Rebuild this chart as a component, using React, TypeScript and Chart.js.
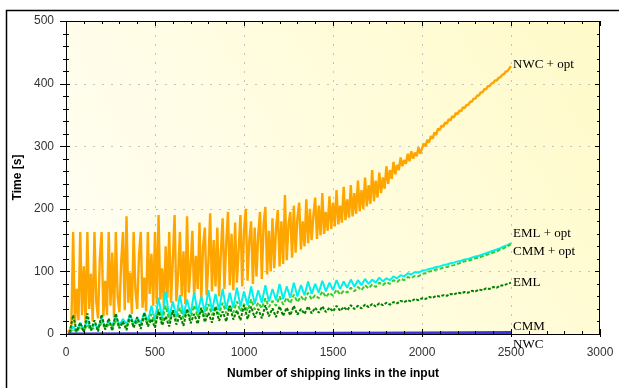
import React, { useEffect, useRef } from 'react';
import { Chart, registerables } from 'chart.js';

Chart.register(...registerables);

// ---------- DATA ----------
const xTickValues = [0, 500, 1000, 1500, 2000, 2500, 3000];
const yTickValues = [0, 100, 200, 300, 400, 500];
const xTitle = 'Number of shipping links in the input';
const yTitle = 'Time [s]';

const seriesNames = ['NWC + opt', 'CMM + opt', 'EML + opt', 'EML', 'CMM', 'NWC'];

const xFine = [
  10, 20, 30, 40, 50, 60, 70, 80, 90, 100,
  110, 120, 130, 140, 150, 160, 170, 180, 190, 200,
  210, 220, 230, 240, 250, 260, 270, 280, 290, 300,
  310, 320, 330, 340, 350, 360, 370, 380, 390, 400,
  410, 420, 430, 440, 450, 460, 470, 480, 490, 500,
  510, 520, 530, 540, 550, 560, 570, 580, 590, 600,
  610, 620, 630, 640, 650, 660, 670, 680, 690, 700,
  710, 720, 730, 740, 750, 760, 770, 780, 790, 800,
  810, 820, 830, 840, 850, 860, 870, 880, 890, 900,
  910, 920, 930, 940, 950, 960, 970, 980, 990, 1000,
  1010, 1020, 1030, 1040, 1050, 1060, 1070, 1080, 1090, 1100,
  1110, 1120, 1130, 1140, 1150, 1160, 1170, 1180, 1190, 1200,
  1210, 1220, 1230, 1240, 1250, 1260, 1270, 1280, 1290, 1300,
  1310, 1320, 1330, 1340, 1350, 1360, 1370, 1380, 1390, 1400,
  1410, 1420, 1430, 1440, 1450, 1460, 1470, 1480, 1490, 1500,
  1510, 1520, 1530, 1540, 1550, 1560, 1570, 1580, 1590, 1600,
  1610, 1620, 1630, 1640, 1650, 1660, 1670, 1680, 1690, 1700,
  1710, 1720, 1730, 1740, 1750, 1760, 1770, 1780, 1790, 1800,
  1810, 1820, 1830, 1840, 1850, 1860, 1870, 1880, 1890, 1900,
  1910, 1920, 1930, 1940, 1950, 1960, 1970, 1980, 1990, 2000,
  2010, 2020, 2030, 2040, 2050, 2060, 2070, 2080, 2090, 2100,
  2110, 2120, 2130, 2140, 2150, 2160, 2170, 2180, 2190, 2200,
  2210, 2220, 2230, 2240, 2250, 2260, 2270, 2280, 2290, 2300,
  2310, 2320, 2330, 2340, 2350, 2360, 2370, 2380, 2390, 2400,
  2410, 2420, 2430, 2440, 2450, 2460, 2470, 2480, 2490, 2500,
];

const xCoarse = [
  20, 40, 60, 80, 100, 120, 140, 160, 180, 200,
  220, 240, 260, 280, 300, 320, 340, 360, 380, 400,
  420, 440, 460, 480, 500, 520, 540, 560, 580, 600,
  620, 640, 660, 680, 700, 720, 740, 760, 780, 800,
  820, 840, 860, 880, 900, 920, 940, 960, 980, 1000,
  1020, 1040, 1060, 1080, 1100, 1120, 1140, 1160, 1180, 1200,
  1220, 1240, 1260, 1280, 1300, 1320, 1340, 1360, 1380, 1400,
  1420, 1440, 1460, 1480, 1500, 1520, 1540, 1560, 1580, 1600,
  1620, 1640, 1660, 1680, 1700, 1720, 1740, 1760, 1780, 1800,
  1820, 1840, 1860, 1880, 1900, 1920, 1940, 1960, 1980, 2000,
  2020, 2040, 2060, 2080, 2100, 2120, 2140, 2160, 2180, 2200,
  2220, 2240, 2260, 2280, 2300, 2320, 2340, 2360, 2380, 2400,
  2420, 2440, 2460, 2480, 2500,
];

const xFlat = [10, 500, 1000, 1500, 2000, 2500];

const nwcOpt = [
  3, 6, 10, 163, 14, 72, 22, 163, 30, 108,
  18, 163, 40, 96, 20, 163, 52, 25, 120, 163,
  28, 85, 30, 163, 45, 130, 26, 163, 60, 35,
  115, 163, 38, 188, 50, 98, 32, 163, 70, 40,
  125, 163, 42, 90, 36, 163, 64, 128, 45, 163,
  48, 190, 55, 105, 44, 140, 58, 163, 50, 118,
  190, 52, 95, 163, 60, 132, 48, 188, 66, 110,
  165, 58, 125, 72, 178, 54, 140, 170, 62, 115,
  193, 68, 150, 76, 170, 60, 130, 185, 72, 145,
  195, 78, 160, 70, 178, 82, 135, 190, 76, 165,
  200, 85, 150, 180, 80, 170, 92, 160, 195, 88,
  175, 203, 95, 165, 100, 185, 105, 170, 198, 108,
  180, 112, 222, 118, 175, 195, 122, 205, 130, 185,
  210, 135, 180, 140, 215, 145, 200, 150, 190, 218,
  152, 205, 158, 225, 160, 195, 165, 220, 168, 210,
  172, 230, 175, 205, 178, 235, 182, 215, 186, 238,
  188, 225, 192, 245, 196, 230, 200, 250, 204, 238,
  208, 262, 212, 245, 218, 258, 225, 250, 232, 268,
  240, 262, 248, 275, 255, 270, 262, 282, 268, 278,
  272, 288, 276, 292, 280, 290, 284, 298, 288, 296,
  304, 300, 310, 306, 316, 312, 322, 318, 328, 326,
  333, 331, 338, 336, 343, 341, 348, 346, 353, 351,
  357, 356, 362, 361, 366, 366, 371, 371, 376, 376,
  381, 381, 386, 386, 391, 391, 396, 396, 400, 401,
  405, 405, 409, 410, 414, 415, 419, 420, 424, 428,
];

const cmmOpt = [
  2, 12, 4, 18, 6, 22, 8, 15, 10, 25,
  11, 20, 13, 28, 14, 24, 16, 30, 17, 26,
  18, 34, 20, 45, 22, 58, 24, 68, 26, 52,
  28, 62, 30, 55, 32, 66, 34, 60, 35, 70,
  37, 64, 38, 72, 40, 66, 42, 74, 44, 68,
  46, 76, 48, 70, 50, 78, 52, 72, 54, 80,
  56, 76, 58, 82, 60, 78, 62, 84, 64, 80,
  66, 85, 68, 82, 70, 86, 72, 84, 74, 87,
  76, 86, 78, 88, 80, 87, 82, 90, 84, 89,
  86, 92, 89, 94, 92, 97, 95, 99, 98, 101,
  102, 104, 105, 107, 108, 110, 111, 113, 114, 116,
  117, 119, 120, 122, 124, 125, 127, 129, 131, 133,
  135, 137, 140, 142, 145,
];

const emlOpt = [
  2, 8, 3, 12, 5, 15, 6, 10, 8, 18,
  9, 15, 10, 20, 11, 17, 12, 22, 13, 19,
  14, 25, 16, 32, 17, 40, 19, 45, 21, 36,
  22, 42, 24, 38, 25, 46, 27, 41, 28, 48,
  30, 45, 31, 50, 33, 46, 34, 52, 36, 48,
  37, 55, 39, 50, 41, 57, 43, 53, 45, 60,
  47, 58, 49, 63, 51, 60, 53, 66, 55, 62,
  57, 68, 59, 66, 61, 71, 63, 69, 66, 74,
  68, 75, 70, 78, 73, 79, 75, 82, 78, 83,
  80, 86, 83, 88, 86, 91, 89, 93, 92, 96,
  97, 100, 101, 103, 104, 106, 107, 109, 110, 112,
  114, 116, 117, 119, 121, 122, 124, 126, 128, 130,
  132, 135, 137, 140, 143,
];

const eml = [
  2, 30, 4, 18, 3, 33, 6, 22, 4, 31,
  7, 25, 5, 33, 9, 20, 6, 32, 10, 27,
  8, 34, 12, 24, 10, 36, 14, 28, 12, 38,
  15, 30, 13, 40, 17, 32, 16, 42, 19, 34,
  18, 43, 21, 36, 20, 45, 23, 38, 22, 46,
  24, 44, 26, 40, 25, 46, 28, 41, 27, 44,
  29, 42, 30, 45, 31, 40, 32, 44, 33, 42,
  34, 44, 35, 42, 36, 45, 37, 43, 38, 46,
  40, 45, 41, 47, 43, 48, 44, 49, 46, 50,
  47, 51, 49, 53, 51, 54, 52, 56, 54, 57,
  56, 59, 58, 61, 60, 62, 61, 64, 63, 66,
  65, 67, 66, 69, 68, 71, 70, 73, 72, 75,
  74, 77, 78, 80, 82,
];

const cmm = [0.8, 1.2, 1.6, 2.0, 2.5, 3.0];
const nwc = [0.4, 0.4, 0.4, 0.4, 0.4, 0.4];

// ---------- STYLE ----------
const seriesStyle = [
  { color: '#FFA500', width: 2.4, dash: [] as number[], order: 6, labelDy: -1 },
  { color: '#00F0F0', width: 2, dash: [] as number[], order: 5, labelDy: 8 },
  { color: '#32CD32', width: 2, dash: [4, 2], order: 4, labelDy: -11 },
  { color: '#008000', width: 2, dash: [3, 1.5], order: 3, labelDy: 0 },
  { color: '#3535E0', width: 2, dash: [] as number[], order: 2, labelDy: -6 },
  { color: '#FF0000', width: 1.5, dash: [] as number[], order: 1, labelDy: 11 },
];

const xMinorStep = 100;
const yMinorStep = 20;
const sansFont = '"Liberation Sans", Arial, sans-serif';
const serifFont = '"Liberation Serif", "Times New Roman", serif';

function toPoints(xs: number[], ys: number[]) {
  return xs.map((x, i) => ({ x, y: ys[i] }));
}

const seriesData = [
  toPoints(xFine, nwcOpt),
  toPoints(xCoarse, cmmOpt),
  toPoints(xCoarse, emlOpt),
  toPoints(xCoarse, eml),
  toPoints(xFlat, cmm),
  toPoints(xFlat, nwc),
];

const decorPlugin = {
  id: 'decor',
  beforeDraw(chart: any) {
    const { ctx, chartArea: a } = chart;
    const xs = chart.scales.x;
    const ys = chart.scales.y;
    ctx.save();
    const g = ctx.createLinearGradient(a.left, a.bottom, a.right, a.top);
    g.addColorStop(0, '#FFFFF6');
    g.addColorStop(1, '#FFFAC8');
    ctx.fillStyle = g;
    ctx.fillRect(a.left, a.top, a.right - a.left, a.bottom - a.top);
    ctx.strokeStyle = '#c4c4c4';
    ctx.lineWidth = 1;
    ctx.setLineDash([2, 7]);
    for (const v of xTickValues) {
      if (v <= xs.min || v >= xs.max) continue;
      const px = Math.round(xs.getPixelForValue(v)) + 0.5;
      ctx.beginPath();
      ctx.moveTo(px, a.bottom);
      ctx.lineTo(px, a.top);
      ctx.stroke();
    }
    for (const v of yTickValues) {
      if (v <= ys.min || v >= ys.max) continue;
      const py = Math.round(ys.getPixelForValue(v)) + 0.5;
      ctx.beginPath();
      ctx.moveTo(a.left, py);
      ctx.lineTo(a.right, py);
      ctx.stroke();
    }
    ctx.restore();
  },
  afterDraw(chart: any) {
    const { ctx, chartArea: a, width, height } = chart;
    const xs = chart.scales.x;
    const ys = chart.scales.y;
    ctx.save();
    // outer frame (top and left)
    ctx.strokeStyle = '#000';
    ctx.lineWidth = 1.5;
    ctx.beginPath();
    ctx.moveTo(6.5, height);
    ctx.lineTo(6.5, 10.5);
    ctx.lineTo(width, 10.5);
    ctx.stroke();

    // plot border
    ctx.lineWidth = 1;
    ctx.strokeRect(a.left + 0.5, a.top + 0.5, a.right - a.left - 1, a.bottom - a.top);

    // ticks
    ctx.beginPath();
    for (let v = xs.min; v <= xs.max; v += xMinorStep) {
      const px = Math.round(xs.getPixelForValue(v)) + 0.5;
      const major = xTickValues.includes(v);
      ctx.moveTo(px, a.bottom + (major ? 3 : 0));
      ctx.lineTo(px, a.bottom - (major ? 5 : 3));
      ctx.moveTo(px, a.top);
      ctx.lineTo(px, a.top + (major ? 5 : 3));
    }
    for (let v = ys.min; v <= ys.max; v += yMinorStep) {
      const py = Math.round(ys.getPixelForValue(v)) + 0.5;
      const major = yTickValues.includes(v);
      ctx.moveTo(a.left - (major ? 6 : 3), py);
      ctx.lineTo(a.left + (major ? 4 : 3), py);
      ctx.moveTo(a.right, py);
      ctx.lineTo(a.right - (major ? 5 : 3), py);
    }
    ctx.stroke();

    // axis titles
    ctx.fillStyle = '#000';
    ctx.font = 'bold 12px ' + sansFont;
    ctx.textAlign = 'center';
    ctx.textBaseline = 'middle';
    ctx.fillText(xTitle, (a.left + a.right) / 2, 374);
    ctx.save();
    ctx.translate(18, (a.top + a.bottom) / 2);
    ctx.rotate(-Math.PI / 2);
    ctx.fillText(yTitle, 0, 0);
    ctx.restore();

    // series end labels
    ctx.font = '13px ' + serifFont;
    ctx.textAlign = 'left';
    ctx.textBaseline = 'middle';
    seriesData.forEach((pts, i) => {
      const last = pts[pts.length - 1];
      const px = xs.getPixelForValue(last.x) + 2;
      const py = ys.getPixelForValue(last.y) + seriesStyle[i].labelDy;
      ctx.fillText(seriesNames[i], px, py);
    });
    ctx.restore();
  },
};

export default function App() {
  const ref = useRef<HTMLCanvasElement | null>(null);

  useEffect(() => {
    document.body.style.margin = '0';
    const canvas = ref.current;
    if (!canvas) return;
    const chart = new Chart(canvas, {
      type: 'line',
      data: {
        datasets: seriesData.map((d, i) => ({
          label: seriesNames[i],
          data: d,
          borderColor: seriesStyle[i].color,
          backgroundColor: seriesStyle[i].color,
          borderWidth: seriesStyle[i].width,
          borderDash: seriesStyle[i].dash,
          borderJoinStyle: 'bevel' as const,
          pointRadius: 0,
          tension: 0,
          fill: false,
          order: seriesStyle[i].order,
        })),
      },
      options: {
        animation: false,
        responsive: false,
        devicePixelRatio: 1,
        parsing: false as any,
        layout: { padding: { left: 0, top: 21, right: 19, bottom: 0 } },
        plugins: {
          legend: { display: false },
          tooltip: { enabled: false },
        },
        scales: {
          x: {
            type: 'linear',
            min: 0,
            max: 3000,
            afterBuildTicks: (s: any) => {
              s.ticks = xTickValues.map((v) => ({ value: v }));
            },
            afterFit: (s: any) => {
              s.height = 54;
              s.paddingLeft = 0;
              s.paddingRight = 0;
            },
            ticks: {
              font: { family: sansFont, size: 12 },
              color: '#333',
              padding: 11,
              maxRotation: 0,
              autoSkip: false,
              callback: (v: any) => String(v),
            },
            grid: { display: false, drawTicks: false },
            border: { display: false },
          },
          y: {
            type: 'linear',
            min: 0,
            max: 500,
            afterBuildTicks: (s: any) => {
              s.ticks = yTickValues.map((v) => ({ value: v }));
            },
            afterFit: (s: any) => {
              s.width = 66;
              s.paddingTop = 0;
              s.paddingBottom = 0;
            },
            ticks: {
              font: { family: sansFont, size: 12 },
              color: '#333',
              padding: 12,
              callback: (v: any) => String(v),
            },
            grid: { display: false, drawTicks: false },
            border: { display: false },
          },
        },
      },
      plugins: [decorPlugin],
    });
    return () => chart.destroy();
  }, []);

  return <canvas ref={ref} width={619} height={388} style={{ display: 'block' }} />;
}
